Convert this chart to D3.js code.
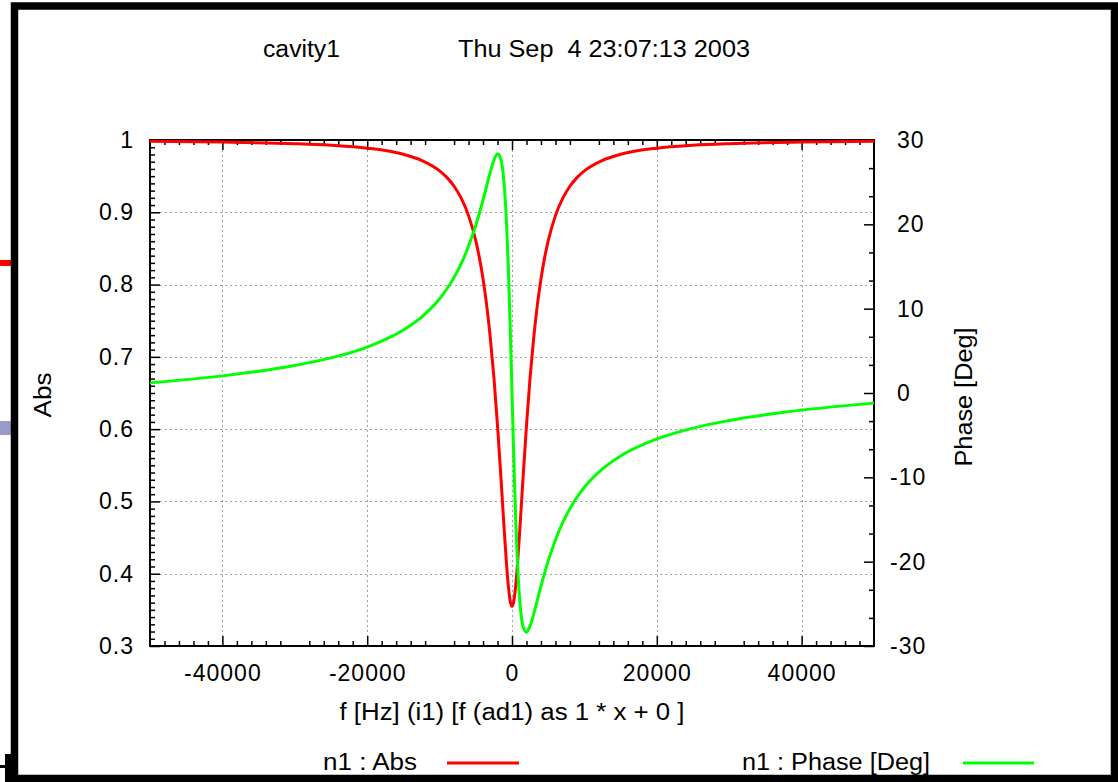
<!DOCTYPE html>
<html>
<head>
<meta charset="utf-8">
<script src="https://cdn.jsdelivr.net/npm/d3@7"></script>
<style>
  body { margin: 0; background: #fff; }
  svg { display: block; }
  text { font-family: "Liberation Sans", Arial, Helvetica, sans-serif; fill: #000; }
</style>
</head>
<body>
<svg id="chart" width="1118" height="782"></svg>
<script>
// frequency samples [Hz]
const freq = [-50000, -40000, -30000, -25000, -20000, -15000, -12500, -10000, -9000, -8000, -7000, -6000, -5000, -4500, -4000,
  -3500, -3000, -2500, -2000, -1500, -1250, -1000, -750, -500, -250, 0,
  250, 500, 750, 1000, 1250, 1500, 2000, 2500, 3000, 3500, 4000, 4500, 5000, 6000, 7000,
  8000, 9000, 10000, 12500, 15000, 20000, 25000, 30000, 40000, 50000];

// n1 : Abs (left axis)
const absVals = [0.9982, 0.9971, 0.9949, 0.9927, 0.9887, 0.9802, 0.9719, 0.9573, 0.9483, 0.9360, 0.9192, 0.8954, 0.8605, 0.8369, 0.8078,
  0.7716, 0.7267, 0.6715, 0.6050, 0.5287, 0.4885, 0.4490, 0.4125, 0.3824, 0.3621, 0.3550,
  0.3621, 0.3824, 0.4125, 0.4490, 0.4885, 0.5287, 0.6050, 0.6715, 0.7267, 0.7716, 0.8078, 0.8369, 0.8605, 0.8954, 0.9192,
  0.9360, 0.9483, 0.9573, 0.9719, 0.9802, 0.9887, 0.9927, 0.9949, 0.9971, 0.9982];

// n1 : Phase [Deg] (right axis)
const phaseVals = [1.20, 2.03, 3.26, 4.16, 5.45, 7.47, 9.00, 11.18, 12.33, 13.71, 15.37, 17.42, 19.91, 21.35, 22.90,
  24.55, 26.19, 27.60, 28.37, 27.62, 26.23, 23.79, 20.01, 14.67, 7.82, 0.0,
  -7.82, -14.67, -20.01, -23.79, -26.23, -27.62, -28.37, -27.60, -26.19, -24.55, -22.90, -21.35, -19.91, -17.42, -15.37,
  -13.71, -12.33, -11.18, -9.00, -7.47, -5.45, -4.16, -3.26, -2.03, -1.20];

const xTicks = [-40000, -20000, 0, 20000, 40000];
const absTicks = [0.3, 0.4, 0.5, 0.6, 0.7, 0.8, 0.9, 1];
const phaseTicks = [-30, -20, -10, 0, 10, 20, 30];

const svg = d3.select("#chart");
const L = 150, R = 874, T = 140, B = 646;

const x = d3.scaleLinear().domain([-50000, 50000]).range([L, R]);
const yAbs = d3.scaleLinear().domain([0.3, 1]).range([B, T]);
const yPh = d3.scaleLinear().domain([-30, 30]).range([B, T]);

// stray bits on the left edge of the screenshot
svg.append("rect").attr("x", 0).attr("y", 260).attr("width", 12).attr("height", 6).attr("fill", "#ff0000");
svg.append("rect").attr("x", 0).attr("y", 421).attr("width", 12).attr("height", 14).attr("fill", "#9a9acb");
svg.append("rect").attr("x", 0).attr("y", 765).attr("width", 12).attr("height", 3).attr("fill", "#000");
svg.append("rect").attr("x", 5).attr("y", 754).attr("width", 6).attr("height", 28).attr("fill", "#000");

// window frame
svg.append("rect")
   .attr("x", 14.5).attr("y", 6)
   .attr("width", 1100).attr("height", 772.5)
   .attr("fill", "none")
   .attr("stroke", "#000")
   .attr("stroke-width", 7.5);

// grid
const grid = svg.append("g")
   .attr("stroke", "#a0a0a0")
   .attr("stroke-width", 1)
   .attr("stroke-dasharray", "2,3");

grid.selectAll(".gx")
    .data(xTicks)
    .enter().append("line")
    .attr("x1", d => Math.round(x(d)) + 0.5).attr("x2", d => Math.round(x(d)) + 0.5)
    .attr("y1", T).attr("y2", B);

grid.selectAll(".gy")
    .data(absTicks.filter(d => d > 0.3 && d < 1))
    .enter().append("line")
    .attr("x1", L).attr("x2", R)
    .attr("y1", d => Math.round(yAbs(d)) + 0.5).attr("y2", d => Math.round(yAbs(d)) + 0.5);

// minor tick values
const xMinor = d3.range(-48000, 50000, 2000).filter(d => d % 10000 !== 0);
const absMinor = d3.range(31, 100).map(d => d / 100).filter((d, i) => (i + 1) % 10 !== 0);
const phMinor = d3.range(-30, 30, 10).flatMap(d => [d + 10 / 3, d + 20 / 3]);

function styleAxis(g) {
  g.select(".domain").remove();
  g.selectAll("line").attr("stroke", "#000").attr("stroke-width", 1.5);
  g.selectAll("text")
   .style("font-size", "23px")
   .style("letter-spacing", "1px")
   .attr("fill", "#000");
}

// bottom axis
svg.append("g")
   .attr("transform", "translate(0," + B + ")")
   .call(d3.axisBottom(x).tickValues(xTicks).tickSize(-10).tickPadding(19).tickSizeOuter(0)
          .tickFormat(d => String(d)))
   .call(styleAxis);
svg.append("g")
   .attr("transform", "translate(0," + B + ")")
   .call(d3.axisBottom(x).tickValues(xMinor).tickSize(-5).tickFormat("").tickSizeOuter(0))
   .call(styleAxis);

// top mirror ticks
svg.append("g")
   .attr("transform", "translate(0," + T + ")")
   .call(d3.axisTop(x).tickValues(xTicks).tickSize(-10).tickFormat("").tickSizeOuter(0))
   .call(styleAxis);
svg.append("g")
   .attr("transform", "translate(0," + T + ")")
   .call(d3.axisTop(x).tickValues(xMinor).tickSize(-5).tickFormat("").tickSizeOuter(0))
   .call(styleAxis);

// left axis (Abs)
svg.append("g")
   .attr("transform", "translate(" + L + ",0)")
   .call(d3.axisLeft(yAbs).tickValues(absTicks).tickSize(-10).tickPadding(16).tickSizeOuter(0)
          .tickFormat(d => d === 1 ? "1" : d.toFixed(1)))
   .call(styleAxis);
svg.append("g")
   .attr("transform", "translate(" + L + ",0)")
   .call(d3.axisLeft(yAbs).tickValues(absMinor).tickSize(-5).tickFormat("").tickSizeOuter(0))
   .call(styleAxis);

// right axis (Phase)
const rightAxis = svg.append("g")
   .attr("transform", "translate(" + R + ",0)")
   .call(d3.axisRight(yPh).tickValues(phaseTicks).tickSize(-10).tickPadding(23).tickSizeOuter(0)
          .tickFormat(d => String(d)))
   .call(styleAxis);
rightAxis.selectAll("text").attr("x", d => d < 0 ? 16 : 23);
svg.append("g")
   .attr("transform", "translate(" + R + ",0)")
   .call(d3.axisRight(yPh).tickValues(phMinor).tickSize(-5).tickFormat("").tickSizeOuter(0))
   .call(styleAxis);

// plot border
svg.append("rect")
   .attr("x", L).attr("y", T)
   .attr("width", R - L).attr("height", B - T)
   .attr("fill", "none")
   .attr("stroke", "#000")
   .attr("stroke-width", 2);

// curves
const absLine = d3.line()
   .x((d, i) => x(freq[i]))
   .y(d => yAbs(d))
   .curve(d3.curveMonotoneX);
const phLine = d3.line()
   .x((d, i) => x(freq[i]))
   .y(d => yPh(d))
   .curve(d3.curveMonotoneX);

svg.append("path")
   .datum(absVals)
   .attr("d", absLine)
   .attr("fill", "none")
   .attr("stroke", "#ff0000")
   .attr("stroke-width", 3);

svg.append("path")
   .datum(phaseVals)
   .attr("d", phLine)
   .attr("fill", "none")
   .attr("stroke", "#00ff00")
   .attr("stroke-width", 3);

// texts
function label(txt, xPos, yPos, len, rot) {
  const t = svg.append("text")
     .attr("xml:space", "preserve")
     .attr("text-anchor", "middle")
     .style("font-size", "23px")
     .attr("textLength", len)
     .attr("lengthAdjust", "spacingAndGlyphs")
     .text(txt);
  if (rot) t.attr("transform", "translate(" + xPos + "," + yPos + ") rotate(-90)");
  else t.attr("x", xPos).attr("y", yPos);
  return t;
}

label("cavity1", 301.5, 57, 77);
label("Thu Sep  4 23:07:13 2003", 604, 57, 292);
label("f [Hz] (i1) [f (ad1) as 1 * x + 0 ]", 512, 720, 345);
label("Abs", 51, 395, 45, true);
label("Phase [Deg]", 972, 397, 139, true);

// legend
label("n1 : Abs", 370, 770, 94);
label("n1 : Phase [Deg]", 836, 770, 188);
svg.append("line")
   .attr("x1", 447).attr("x2", 519).attr("y1", 763).attr("y2", 763)
   .attr("stroke", "#ff0000").attr("stroke-width", 3);
svg.append("line")
   .attr("x1", 963).attr("x2", 1034).attr("y1", 763).attr("y2", 763)
   .attr("stroke", "#00ff00").attr("stroke-width", 3);
</script>
</body>
</html>
